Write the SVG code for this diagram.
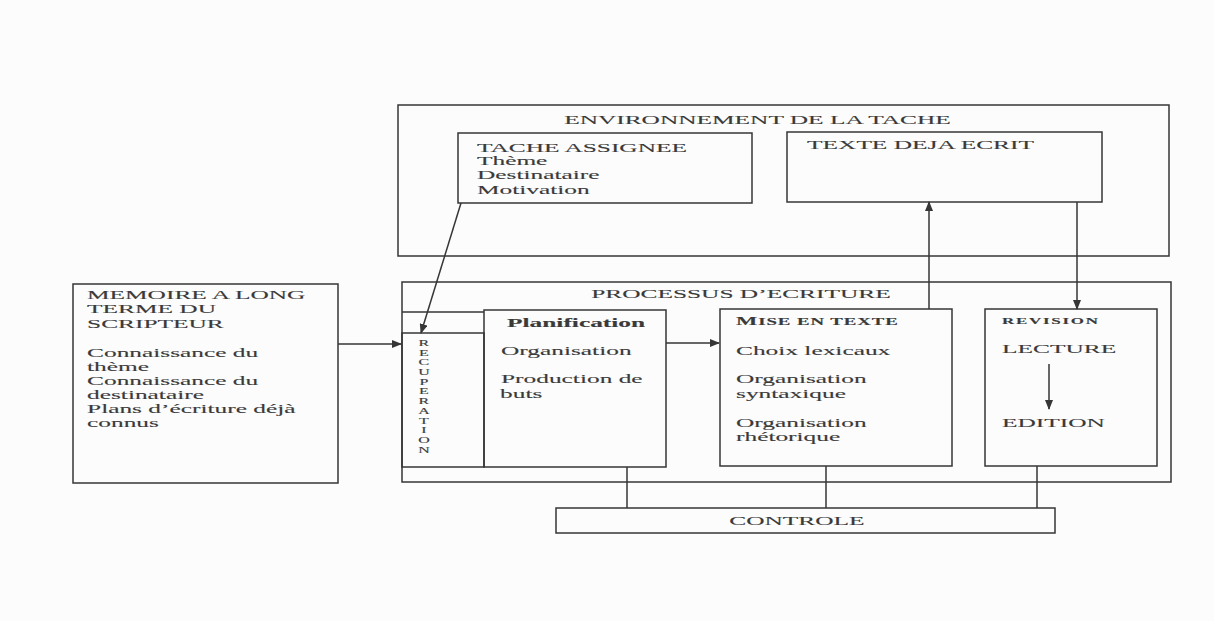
<svg xmlns="http://www.w3.org/2000/svg" width="1214" height="621" viewBox="0 0 1214 621">
<style>
.box{fill:none;stroke:#363636;stroke-width:1.5}
.ln{fill:none;stroke:#363636;stroke-width:1.5}
text{font-family:"Liberation Serif","Times New Roman",serif;fill:#3a3a3a;stroke:#3a3a3a;stroke-width:0.12px;font-size:13.5px}
.b{font-weight:bold}
.m{text-anchor:middle}
.sm{font-size:8.5px}
</style>
<defs>
<marker id="ah" markerWidth="10" markerHeight="8" refX="9" refY="4" orient="auto" markerUnits="userSpaceOnUse">
<path d="M0,0 L10,4 L0,8 Z" fill="#363636"/>
</marker>
</defs>
<rect width="1214" height="621" fill="#fcfcfc"/>

<g id="environnement">
<rect class="box" x="398" y="105" width="771" height="151"/>
<g transform="scale(1.88 1)"><text class="m" x="402.9" y="124">ENVIRONNEMENT DE LA TACHE</text></g>
</g>

<g id="tache-assignee">
<rect class="box" x="458" y="133" width="294" height="70"/>
<g transform="scale(1.88 1)">
<text x="253.7" y="152">TACHE ASSIGNEE</text>
<text x="253.7" y="165">Thème</text>
<text x="253.7" y="179">Destinataire</text>
<text x="253.7" y="194">Motivation</text>
</g>
</g>

<g id="texte-deja-ecrit">
<rect class="box" x="787" y="132" width="315" height="70"/>
<g transform="scale(1.88 1)"><text x="429.3" y="149">TEXTE DEJA ECRIT</text></g>
</g>

<g id="memoire">
<rect class="box" x="73" y="284" width="265" height="199"/>
<g transform="scale(1.88 1)">
<text x="46.3" y="299">MEMOIRE A LONG</text>
<text x="46.3" y="313">TERME DU</text>
<text x="46.3" y="328">SCRIPTEUR</text>
<text x="46.3" y="357">Connaissance du</text>
<text x="46.3" y="371">thème</text>
<text x="46.3" y="385">Connaissance du</text>
<text x="46.3" y="399">destinataire</text>
<text x="46.3" y="413">Plans d’écriture déjà</text>
<text x="46.3" y="427">connus</text>
</g>
</g>

<g id="processus">
<rect class="box" x="402" y="282" width="769" height="200"/>
<line class="ln" x1="402" y1="312" x2="484" y2="312"/>
<g transform="scale(1.88 1)"><text class="m" x="394.1" y="298">PROCESSUS D’ECRITURE</text></g>
</g>

<g id="recuperation">
<rect class="box" x="402" y="333" width="82" height="134"/>
<g transform="scale(1.88 1)">
<text class="sm m"><tspan x="225.5" y="346">R</tspan><tspan x="225.5" y="355.7">E</tspan><tspan x="225.5" y="365.4">C</tspan><tspan x="225.5" y="375.1">U</tspan><tspan x="225.5" y="384.8">P</tspan><tspan x="225.5" y="394.5">E</tspan><tspan x="225.5" y="404.2">R</tspan><tspan x="225.5" y="413.9">A</tspan><tspan x="225.5" y="423.6">T</tspan><tspan x="225.5" y="433.3">I</tspan><tspan x="225.5" y="443">O</tspan><tspan x="225.5" y="452.7">N</tspan></text>
</g>
</g>

<g id="planification">
<rect class="box" x="484" y="310" width="182" height="157"/>
<g transform="scale(1.88 1)">
<text class="b" x="269.7" y="327">Planification</text>
<text x="266.5" y="355">Organisation</text>
<text x="266.5" y="383">Production de</text>
<text x="266" y="398">buts</text>
</g>
</g>

<g id="mise-en-texte">
<rect class="box" x="720" y="309" width="232" height="157"/>
<g transform="scale(1.88 1)">
<text class="b" x="391.5" y="325" style="letter-spacing:0.5px"><tspan style="font-size:12px">M</tspan><tspan style="font-size:10px">ISE EN TEXTE</tspan></text>
<text x="391.5" y="355">Choix lexicaux</text>
<text x="391.5" y="383">Organisation</text>
<text x="391.5" y="398">syntaxique</text>
<text x="391.5" y="427">Organisation</text>
<text x="391.5" y="441">rhétorique</text>
</g>
</g>

<g id="revision">
<rect class="box" x="985" y="309" width="172" height="157"/>
<g transform="scale(1.88 1)">
<text class="b" x="533" y="324" style="font-size:9px" textLength="51" lengthAdjust="spacing">REVISION</text>
<text x="533" y="353">LECTURE</text>
<text x="533" y="427">EDITION</text>
</g>
<line class="ln" x1="1049" y1="364" x2="1049" y2="409" marker-end="url(#ah)"/>
</g>

<g id="controle">
<rect class="box" x="556" y="508" width="499" height="25"/>
<g transform="scale(1.88 1)"><text class="m" x="423.9" y="525">CONTROLE</text></g>
</g>

<g id="connectors">
<line class="ln" x1="338" y1="344" x2="401" y2="344" marker-end="url(#ah)"/>
<line class="ln" x1="461" y1="203" x2="421" y2="333" marker-end="url(#ah)"/>
<line class="ln" x1="666" y1="343" x2="719" y2="343" marker-end="url(#ah)"/>
<line class="ln" x1="929" y1="309" x2="929" y2="202" marker-end="url(#ah)"/>
<line class="ln" x1="1077" y1="202" x2="1077" y2="309" marker-end="url(#ah)"/>
<line class="ln" x1="627" y1="467" x2="627" y2="508"/>
<line class="ln" x1="826" y1="466" x2="826" y2="508"/>
<line class="ln" x1="1037" y1="466" x2="1037" y2="508"/>
</g>
</svg>
